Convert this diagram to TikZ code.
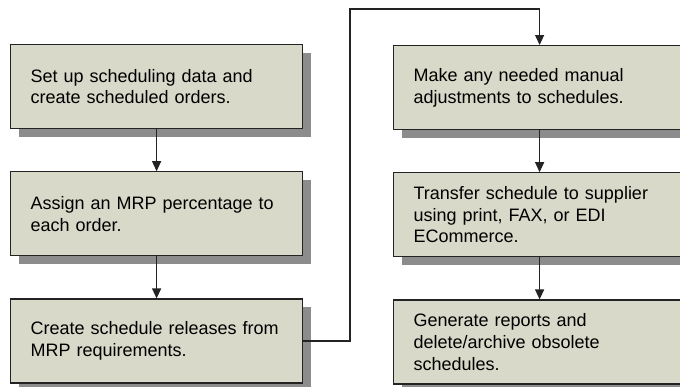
\documentclass[tikz,border=0pt]{standalone}
\usepackage{fontspec}
\setmainfont{Liberation Sans}
\usetikzlibrary{positioning,shadows,arrows.meta}

\definecolor{boxfill}{RGB}{216,217,201}
\definecolor{boxshadow}{RGB}{140,140,140}
\definecolor{boxline}{RGB}{35,35,35}

\tikzset{
  stepbox/.style={draw=boxline, line width=1.2pt, fill=boxfill,
    anchor=north west, align=left, text width=252pt, inner xsep=20pt,
    minimum height=84pt,
    font=\fontsize{18}{21.6}\selectfont,
    drop shadow={shadow xshift=8pt, shadow yshift=-8pt, fill=boxshadow, opacity=1}},
  flow/.style={draw=boxline, line width=1.2pt, -{Triangle[width=9pt,length=10pt]}}
}

\begin{document}
\begin{tikzpicture}[x=1pt,y=-1pt]
      \useasboundingbox (0,0) rectangle (680,386);

      % Left column
      \node[stepbox] (setup) at (10,44) {Set up scheduling data and\\create scheduled orders.};
      \node[stepbox, below=42pt of setup.south west, anchor=north west] (assign) {Assign an MRP percentage to\\each order.};
      \node[stepbox, below=42pt of assign.south west, anchor=north west] (release) {Create schedule releases from\\MRP requirements.};

      % Right column
      \node[stepbox] (adjust) at (393,45) {Make any needed manual\\adjustments to schedules.};
      \node[stepbox, below=42pt of adjust.south west, anchor=north west] (transfer) {Transfer schedule to supplier\\using print, FAX, or EDI\\ECommerce.};
      \node[stepbox, below=42pt of transfer.south west, anchor=north west] (report) {Generate reports and\\delete/archive obsolete\\schedules.};

      % Connectors
      \draw[flow] (setup) -- (assign);
      \draw[flow] (assign) -- (release);
      \draw[flow] (release.east) -| (350,9) -| (adjust.north);
      \draw[flow] (adjust) -- (transfer);
      \draw[flow] (transfer) -- (report);
    \end{tikzpicture}
\end{document}
